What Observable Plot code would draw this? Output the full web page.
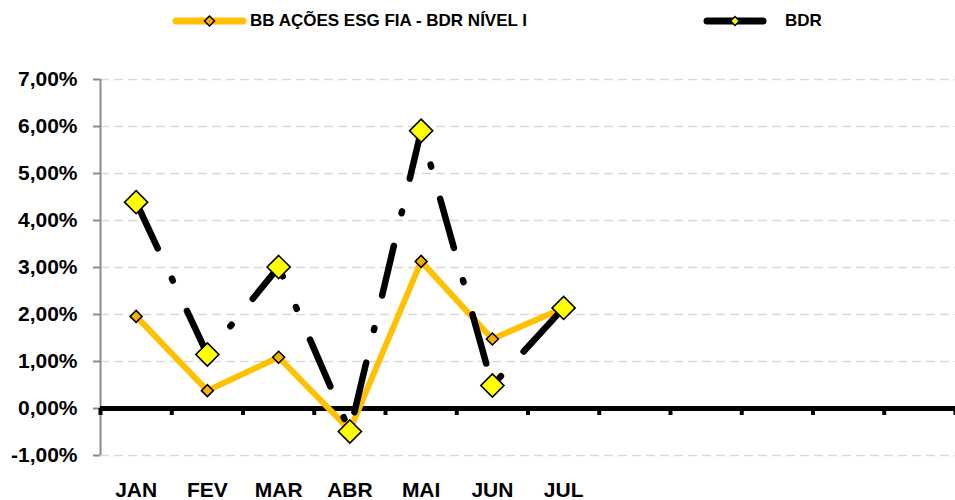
<!DOCTYPE html>
<html>
<head>
<meta charset="utf-8">
<script src="https://cdn.jsdelivr.net/npm/d3@7"></script>
<script src="https://cdn.jsdelivr.net/npm/@observablehq/plot@0.6"></script>
<style>
  body { margin: 0; background: #fff; font-family: "Liberation Sans", Arial, sans-serif; }
  #legend { position: relative; width: 955px; height: 42px; }
  .lg-sym { position: absolute; top: 0; }
  .lg-text { position: absolute; top: 0; height: 42px; line-height: 42px; font-weight: bold; font-size: 17px; color: #000; white-space: nowrap; }
</style>
</head>
<body>
<div id="legend"></div>
<div id="chart"></div>
<script>
// ---- data ----
const months = ["JAN", "FEV", "MAR", "ABR", "MAI", "JUN", "JUL"];
const slotCount = 12; // Jan..Dec slots on the category axis
const esgValues = [1.96, 0.38, 1.09, -0.46, 3.13, 1.48, 2.14];
const bdrValues = [4.39, 1.15, 3.01, -0.49, 5.91, 0.49, 2.14];
const yTicks = [-1, 0, 1, 2, 3, 4, 5, 6, 7];
const seriesNames = ["BB AÇÕES ESG FIA - BDR NÍVEL I", "BDR"];

// ---- colours ----
const orange = "#FFC000";
const orangeMarker = "#F5B000";
const yellow = "#FFFF00";

const esg = months.map((m, i) => ({month: m, pos: i + 0.5, value: esgValues[i]}));
const bdr = months.map((m, i) => ({month: m, pos: i + 0.5, value: bdrValues[i]}));
const labelPositions = months.map((m, i) => i + 0.5);
const boundaries = d3.range(0, slotCount + 1);
const fmtPct = d => d.toFixed(2).replace(".", ",") + "%";

// ---- legend ----
const legend = d3.select("#legend");
function legendItem(left, textLeft, lineLen, stroke, mFill, mSize, name) {
  const svg = legend.append("svg").attr("class", "lg-sym")
    .style("left", left + "px").attr("width", lineLen + 16).attr("height", 42);
  svg.append("line").attr("x1", 8).attr("x2", 8 + lineLen).attr("y1", 21).attr("y2", 21)
    .attr("stroke", stroke).attr("stroke-width", 7).attr("stroke-linecap", "round");
  const c = 8 + lineLen / 2;
  svg.append("path").attr("d", `M${c},${21 - mSize}L${c + mSize},21L${c},${21 + mSize}L${c - mSize},21Z`)
    .attr("fill", mFill).attr("stroke", "#000").attr("stroke-width", 1.5);
  legend.append("div").attr("class", "lg-text").style("left", textLeft + "px").text(name);
}
legendItem(168, 250, 67, orange, orangeMarker, 5, seriesNames[0]);
legendItem(699, 785, 56, "#000", yellow, 4.5, seriesNames[1]);

// ---- chart ----
const font = "'Liberation Sans', Arial, sans-serif";
const chart = Plot.plot({
  width: 955,
  height: 458,
  marginLeft: 100,
  marginRight: 0,
  marginTop: 37,
  marginBottom: 45,
  style: {fontFamily: font, fontWeight: "bold", fontSize: "21px", background: "#fff", color: "#000", overflow: "visible"},
  x: {type: "linear", domain: [0, slotCount], label: null},
  y: {domain: [-1, 7], label: null},
  marks: [
    Plot.gridY(yTicks.filter(d => d !== 0), {stroke: "#D9D9D9", strokeOpacity: 1, strokeWidth: 1.6, strokeDasharray: "9,5"}),
    Plot.ruleX([0], {stroke: "#8C8C8C", strokeWidth: 2}),
    Plot.axisY(yTicks, {tickSize: 7, text: null, label: null, stroke: "#8C8C8C", strokeWidth: 2}),
    Plot.axisY(yTicks, {tickSize: 0, tickPadding: 23, label: null, tickFormat: fmtPct, fontSize: 21, fontWeight: "bold", fill: "#000"}),
    Plot.ruleY([0], {stroke: "#000", strokeWidth: 5}),
    Plot.ruleX(boundaries, {y1: 0, y2: 0, insetTop: 0, insetBottom: -7, stroke: "#000", strokeWidth: 4}),
    Plot.axisX(labelPositions, {anchor: "bottom", tickSize: 0, tickPadding: 27, label: null, tickFormat: d => months[Math.round(d - 0.5)], fontSize: 21, fontWeight: "bold", fill: "#000"}),
    Plot.line(esg, {x: "pos", y: "value", stroke: orange, strokeWidth: 6, strokeLinejoin: "round"}),
    Plot.line(bdr, {x: "pos", y: "value", stroke: "#000", strokeWidth: 6.5, strokeLinecap: "round", strokeLinejoin: "round", strokeDasharray: "51,33.5,2,33.5"}),
    Plot.dot(esg, {x: "pos", y: "value", symbol: "diamond2", r: 5.4, fill: orangeMarker, stroke: "#000", strokeWidth: 1.5}),
    Plot.dot(bdr, {x: "pos", y: "value", symbol: "diamond2", r: 10.4, fill: yellow, stroke: "#000", strokeWidth: 1.6})
  ]
});
document.getElementById("chart").appendChild(chart);
</script>
</body>
</html>
